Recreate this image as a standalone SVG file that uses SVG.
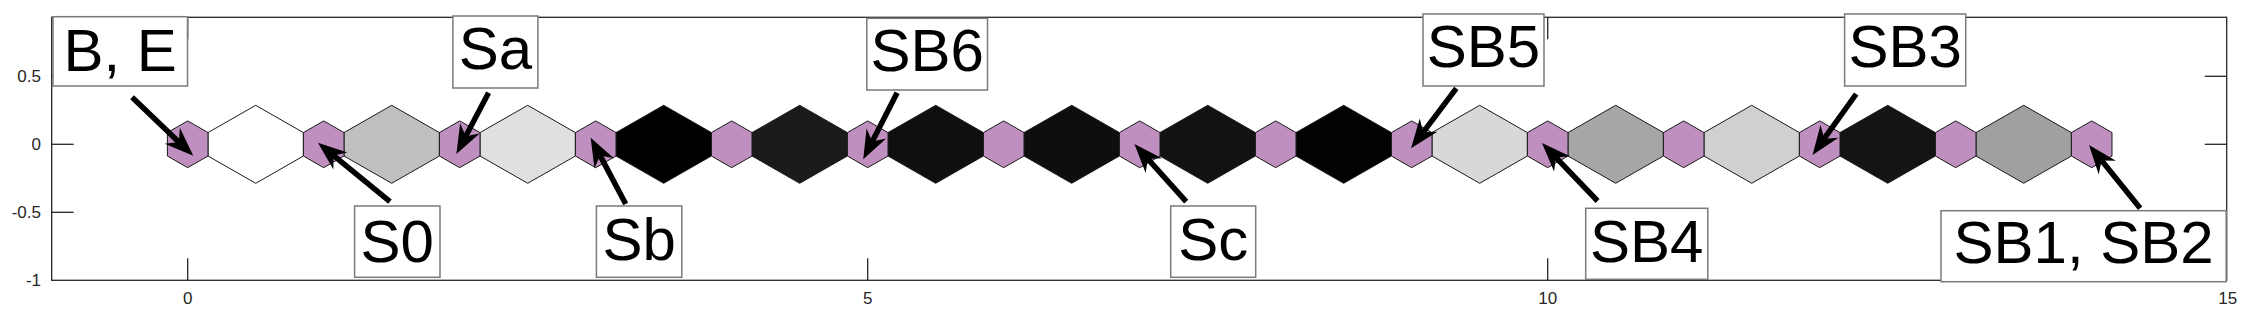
<svg xmlns="http://www.w3.org/2000/svg" xmlns:xlink="http://www.w3.org/1999/xlink" width="2246" height="319" viewBox="0 0 2246 319">
<style>
.ax{fill:none;stroke:#262626;stroke-width:1.3}
.tk{stroke:#262626;stroke-width:1.3}
.tl{font-family:"Liberation Sans",Arial,Helvetica,sans-serif;font-size:17px;fill:#262626}
.tx{text-anchor:middle}
.ty{text-anchor:end}
.sh{stroke:#1a1a1a;stroke-width:1}
.pu{fill:#bf8fbf}
.lbl rect{fill:#ffffff;stroke:#7a7a7a;stroke-width:1.5}
.lbl text{font-family:"Liberation Sans",Arial,Helvetica,sans-serif;font-size:60px;fill:#000000;text-anchor:middle}
.ar{fill:none;stroke:#000000;stroke-width:5.5;marker-end:url(#ah)}
</style>
<defs>
<path id="hex" d="M0,-23.4 L20.3,-11.7 L20.3,11.7 L0,23.4 L-20.3,11.7 L-20.3,-11.7 Z"/>
<path id="dia" d="M-47.7,-11.7 L0,-39 L47.7,-11.7 L47.7,11.7 L0,39 L-47.7,11.7 Z"/>
<marker id="ah" markerUnits="userSpaceOnUse" markerWidth="40" markerHeight="30" viewBox="-10 -15 40 30" refX="0" refY="0" orient="auto" overflow="visible">
<path d="M20,0 L-9,-11 L0,0 L-9,11 Z" fill="#000000"/>
</marker>
</defs>
<rect x="0" y="0" width="2246" height="319" fill="#ffffff"/>
<g id="axes">
<rect class="ax" x="51.7" y="17.3" width="2175" height="263"/>
<line class="tk" x1="187.7" y1="280.3" x2="187.7" y2="258.3"/>
<line class="tk" x1="867.7" y1="280.3" x2="867.7" y2="258.3"/>
<line class="tk" x1="1547.7" y1="280.3" x2="1547.7" y2="258.3"/>
<line class="tk" x1="187.7" y1="17.3" x2="187.7" y2="39.3"/>
<line class="tk" x1="867.7" y1="17.3" x2="867.7" y2="39.3"/>
<line class="tk" x1="1547.7" y1="17.3" x2="1547.7" y2="39.3"/>
<line class="tk" x1="51.7" y1="76.3" x2="73.7" y2="76.3"/>
<line class="tk" x1="51.7" y1="144.3" x2="73.7" y2="144.3"/>
<line class="tk" x1="51.7" y1="212.3" x2="73.7" y2="212.3"/>
<line class="tk" x1="2226.7" y1="76.3" x2="2204.7" y2="76.3"/>
<line class="tk" x1="2226.7" y1="144.3" x2="2204.7" y2="144.3"/>
<line class="tk" x1="2226.7" y1="212.3" x2="2204.7" y2="212.3"/>
<text class="tl tx" x="187.7" y="304">0</text>
<text class="tl tx" x="867.7" y="304">5</text>
<text class="tl tx" x="1547.7" y="304">10</text>
<text class="tl tx" x="2227.7" y="304">15</text>
<text class="tl ty" x="41" y="82.4">0.5</text>
<text class="tl ty" x="41" y="150.4">0</text>
<text class="tl ty" x="41" y="218.4">-0.5</text>
<text class="tl ty" x="41" y="286.4">-1</text>
</g>
<g id="segments">
<use xlink:href="#dia" class="sh" x="255.7" y="144.3" fill="#ffffff"/>
<use xlink:href="#dia" class="sh" x="391.7" y="144.3" fill="#c0c0c0"/>
<use xlink:href="#dia" class="sh" x="527.7" y="144.3" fill="#e0e0e0"/>
<use xlink:href="#dia" class="sh" x="663.7" y="144.3" fill="#000000"/>
<use xlink:href="#dia" class="sh" x="799.7" y="144.3" fill="#1b1b1b"/>
<use xlink:href="#dia" class="sh" x="935.7" y="144.3" fill="#0f0f0f"/>
<use xlink:href="#dia" class="sh" x="1071.7" y="144.3" fill="#0e0e0e"/>
<use xlink:href="#dia" class="sh" x="1207.7" y="144.3" fill="#121212"/>
<use xlink:href="#dia" class="sh" x="1343.7" y="144.3" fill="#020202"/>
<use xlink:href="#dia" class="sh" x="1479.7" y="144.3" fill="#d8d8d8"/>
<use xlink:href="#dia" class="sh" x="1615.7" y="144.3" fill="#a6a6a6"/>
<use xlink:href="#dia" class="sh" x="1751.7" y="144.3" fill="#d0d0d0"/>
<use xlink:href="#dia" class="sh" x="1887.7" y="144.3" fill="#141414"/>
<use xlink:href="#dia" class="sh" x="2023.7" y="144.3" fill="#a0a0a0"/>
</g>
<g id="hex-0"><use xlink:href="#hex" class="sh pu" x="187.7" y="144.3"/></g>
<g id="hex-1"><use xlink:href="#hex" class="sh pu" x="323.7" y="144.3"/></g>
<g id="hex-2"><use xlink:href="#hex" class="sh pu" x="459.7" y="144.3"/></g>
<g id="hex-3"><use xlink:href="#hex" class="sh pu" x="595.7" y="144.3"/></g>
<g id="hex-4"><use xlink:href="#hex" class="sh pu" x="731.7" y="144.3"/></g>
<g id="hex-5"><use xlink:href="#hex" class="sh pu" x="867.7" y="144.3"/></g>
<g id="hex-6"><use xlink:href="#hex" class="sh pu" x="1003.7" y="144.3"/></g>
<g id="hex-7"><use xlink:href="#hex" class="sh pu" x="1139.7" y="144.3"/></g>
<g id="hex-8"><use xlink:href="#hex" class="sh pu" x="1275.7" y="144.3"/></g>
<g id="hex-9"><use xlink:href="#hex" class="sh pu" x="1411.7" y="144.3"/></g>
<g id="hex-10"><use xlink:href="#hex" class="sh pu" x="1547.7" y="144.3"/></g>
<g id="hex-11"><use xlink:href="#hex" class="sh pu" x="1683.7" y="144.3"/></g>
<g id="hex-12"><use xlink:href="#hex" class="sh pu" x="1819.7" y="144.3"/></g>
<g id="hex-13"><use xlink:href="#hex" class="sh pu" x="1955.7" y="144.3"/></g>
<g id="hex-14"><use xlink:href="#hex" class="sh pu" x="2091.7" y="144.3"/></g>
<g id="connectors">
<path class="ar" d="M132.1,97.3 L178.8,141.9"/>
<path class="ar" d="M390,201.7 L333.4,155.4"/>
<path class="ar" d="M488.6,92.7 L465.7,136.3"/>
<path class="ar" d="M625.7,204 L600,155.4"/>
<path class="ar" d="M897.1,92.7 L872.3,141.5"/>
<path class="ar" d="M1186.2,201.7 L1147.8,158.9"/>
<path class="ar" d="M1456.3,88.3 L1423.1,132.3"/>
<path class="ar" d="M1597.6,201 L1555.8,157.4"/>
<path class="ar" d="M1856.2,94 L1824.2,138.7"/>
<path class="ar" d="M2140.2,208.3 L2101.6,160.6"/>
</g>
<g id="label-BE" class="lbl"><rect x="53" y="16.7" width="134.5" height="69.3"/><text x="120.2" y="70.7">B, E</text></g>
<g id="label-S0" class="lbl"><rect x="354.6" y="206" width="85.4" height="71.3"/><text x="397.3" y="261.7">S0</text></g>
<g id="label-Sa" class="lbl"><rect x="452.9" y="16" width="85" height="72"/><text x="495.4" y="69.3">Sa</text></g>
<g id="label-Sb" class="lbl"><rect x="596.4" y="206" width="85.4" height="71.3"/><text x="639.1" y="259.5">Sb</text></g>
<g id="label-SB6" class="lbl"><rect x="866.8" y="18.3" width="120.7" height="71.7"/><text x="927.2" y="70.7">SB6</text></g>
<g id="label-Sc" class="lbl"><rect x="1170.7" y="206" width="85" height="71.3"/><text x="1213.2" y="259.5">Sc</text></g>
<g id="label-SB5" class="lbl"><rect x="1423" y="14" width="121" height="72"/><text x="1483.5" y="67">SB5</text></g>
<g id="label-SB4" class="lbl"><rect x="1585.7" y="208.3" width="122.1" height="71"/><text x="1646.8" y="261.7">SB4</text></g>
<g id="label-SB3" class="lbl"><rect x="1844.6" y="14" width="121.1" height="72"/><text x="1905.2" y="67">SB3</text></g>
<g id="label-SB1SB2" class="lbl"><rect x="1941" y="210.7" width="285.2" height="71"/><text x="2083.6" y="263.3">SB1, SB2</text></g>
</svg>
